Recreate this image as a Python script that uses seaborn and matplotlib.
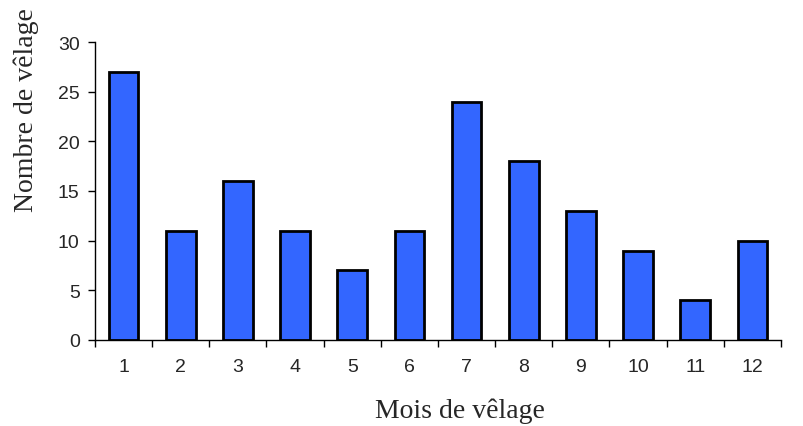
import matplotlib
matplotlib.use("Agg")
import matplotlib.pyplot as plt
import seaborn as sns
import numpy as np
import pandas as pd

months = ["1", "2", "3", "4", "5", "6", "7", "8", "9", "10", "11", "12"]
counts = [27, 11, 16, 11, 7, 11, 24, 18, 13, 9, 4, 10]
y_ticks = [0, 5, 10, 15, 20, 25, 30]

sns.set_style("white")
plt.rcParams['font.family'] = ['Liberation Sans', 'DejaVu Sans']

fig = plt.figure(figsize=(8.04, 4.27), dpi=100)
ax = fig.add_axes([95/804, 1-341/427, (781-95)/804, (341-43)/427])

df = pd.DataFrame({"mois": months, "n": counts})
sns.barplot(data=df, x="mois", y="n", ax=ax, color="#3366FF", saturation=1,
            width=0.52, edgecolor="black", linewidth=2)

ax.set_xlim(-0.5, len(months) - 0.5)
ax.set_ylim(0, 30)
ax.set_yticks(y_ticks)
ax.set_yticklabels([str(v) for v in y_ticks], fontsize=14)
ax.set_xticks(range(len(months)))
ax.set_xticklabels(months, fontsize=14)
ax.set_xticks(np.arange(-0.5, len(months)), minor=True)
ax.tick_params(axis="x", which="major", length=0, pad=13)
ax.tick_params(axis="x", which="minor", length=5, width=1, direction="out", color="black", bottom=True)
ax.tick_params(axis="y", length=5, width=1, direction="out", color="black", left=True, pad=6)

for s in ["top", "right"]:
    ax.spines[s].set_visible(False)
for s in ["left", "bottom"]:
    ax.spines[s].set_color("black")
    ax.spines[s].set_linewidth(1)

ax.set_xlabel("Mois de vêlage", fontsize=20, family=["Liberation Serif", "DejaVu Serif"], labelpad=16)
ax.set_ylabel("Nombre de vêlage", fontsize=20, family=["Liberation Serif", "DejaVu Serif"], labelpad=14)
ax.xaxis.label.set_x(0.532)
ax.yaxis.label.set_y(0.775)

fig.savefig("out.png", dpi=100)
